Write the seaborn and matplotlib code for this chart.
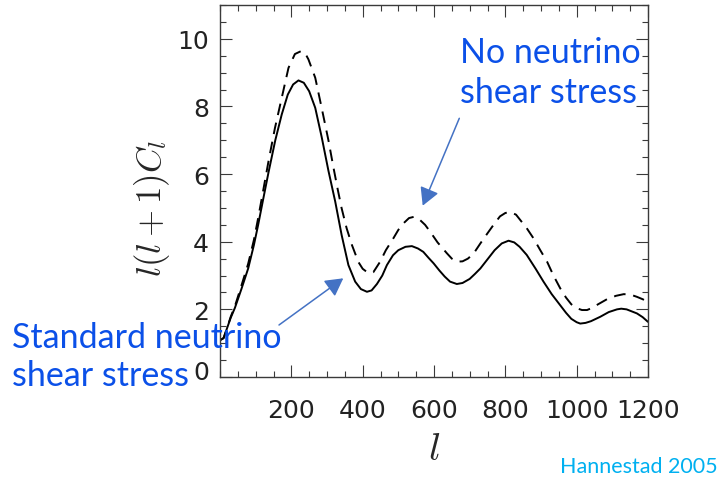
import numpy as np
import pandas as pd
import seaborn as sns
import matplotlib
matplotlib.use("Agg")
import matplotlib.pyplot as plt
from matplotlib.ticker import MultipleLocator
from matplotlib.transforms import ScaledTranslation

# ---- data ----
ell_std = [2, 10, 20, 30, 42, 60, 79, 95, 107, 120, 136, 155, 173, 190, 205, 220, 235, 250,
           267, 285, 304, 323, 341, 360, 379, 395, 412, 425, 440, 455, 468, 485, 500, 520,
           538, 555, 570, 585, 599, 615, 630, 645, 664, 680, 700, 715, 730, 750, 770, 790,
           809, 825, 840, 860, 885, 907, 930, 954, 970, 985, 1000, 1010, 1025, 1040, 1066,
           1090, 1113, 1125, 1140, 1169, 1185, 1200]
cl_std = [1.1, 1.15, 1.45, 1.75, 2.05, 2.6, 3.21, 3.9, 4.5, 5.2, 6.05, 7.0, 7.76, 8.35, 8.65,
          8.77, 8.7, 8.45, 7.96, 7.1, 6.1, 5.19, 4.2, 3.31, 2.82, 2.6, 2.52, 2.56, 2.75, 3.0,
          3.31, 3.6, 3.75, 3.85, 3.87, 3.8, 3.7, 3.52, 3.36, 3.15, 2.97, 2.82, 2.75, 2.78,
          2.9, 3.05, 3.21, 3.48, 3.75, 3.95, 4.03, 3.98, 3.85, 3.61, 3.2, 2.82, 2.45, 2.12,
          1.9, 1.72, 1.62, 1.58, 1.6, 1.65, 1.78, 1.92, 2.0, 2.02, 2.0, 1.88, 1.77, 1.63]

ell_noshear = [2, 10, 20, 30, 42, 60, 79, 95, 107, 120, 136, 154, 173, 192, 210, 228, 240, 248,
               267, 285, 304, 318, 330, 341, 355, 370, 388, 400, 415, 430, 449, 465, 486, 500,
               515, 530, 545, 560, 575, 589, 610, 636, 650, 664, 680, 695, 711, 730, 750, 767,
               785, 800, 814, 830, 845, 860, 879, 898, 917, 935, 954, 970, 985, 1001, 1015,
               1029, 1045, 1060, 1085, 1110, 1132, 1150, 1169, 1185, 1200]
cl_noshear = [1.1, 1.15, 1.45, 1.78, 2.1, 2.7, 3.35, 4.05, 4.7, 5.45, 6.38, 7.36, 8.25, 9.14,
              9.55, 9.64, 9.55, 9.39, 8.85, 7.96, 7.0, 6.2, 5.55, 4.99, 4.4, 3.9, 3.4, 3.2,
              3.08, 3.1, 3.41, 3.75, 4.1, 4.35, 4.55, 4.7, 4.74, 4.65, 4.5, 4.3, 3.98, 3.66,
              3.5, 3.41, 3.42, 3.5, 3.65, 3.95, 4.25, 4.5, 4.75, 4.85, 4.88, 4.8, 4.6, 4.4,
              4.1, 3.75, 3.41, 3.0, 2.62, 2.35, 2.15, 2.03, 1.98, 1.98, 2.05, 2.15, 2.3, 2.4,
              2.45, 2.44, 2.37, 2.3, 2.22]

x_ticks = [200, 400, 600, 800, 1000, 1200]
y_ticks = [0, 2, 4, 6, 8, 10]

label_std = "Standard neutrino\nshear stress"
label_noshear = "No neutrino\nshear stress"
credit = "Hannestad 2005"

# ---- figure ----
sns.set_style("ticks")
plt.rcParams["font.family"] = ["DejaVu Sans"]
plt.rcParams["mathtext.fontset"] = "cm"

fig = plt.figure(figsize=(7.2, 4.81), dpi=100)
ax = fig.add_axes([220 / 720, 1 - 378 / 481, 428 / 720, 372 / 481])

df_std = pd.DataFrame({"l": ell_std, "cl": cl_std})
df_ns = pd.DataFrame({"l": ell_noshear, "cl": cl_noshear})

sns.lineplot(data=df_std, x="l", y="cl", ax=ax, color="black", lw=1.4, sort=False)
sns.lineplot(data=df_ns, x="l", y="cl", ax=ax, color="black", lw=1.4, sort=False,
             linestyle=(0, (6, 4)))

ax.set_xlim(0, 1200)
ax.set_ylim(0, 11)
ax.set_xticks(x_ticks)
ax.set_yticks(y_ticks)
ax.set_xticklabels([str(v) for v in x_ticks])
ax.set_yticklabels([str(v) for v in y_ticks])
ax.xaxis.set_minor_locator(MultipleLocator(50))
ax.yaxis.set_minor_locator(MultipleLocator(0.5))

edge = "#3a3a3a"
for s in ax.spines.values():
    s.set_visible(True)
    s.set_color(edge)
    s.set_linewidth(1.0)
ax.tick_params(which="both", direction="in", top=True, right=True, color=edge, width=0.8)
ax.tick_params(which="major", length=8.6)
ax.tick_params(which="minor", length=4.3)
ax.tick_params(axis="x", which="major", labelsize=18, pad=15, labelcolor="#222222")
ax.tick_params(axis="y", which="major", labelsize=18, pad=8, labelcolor="#222222")

ax.set_xlabel(r"$l$", fontsize=28)
ax.set_ylabel(r"$l(l+1)C_l$", fontsize=25)
ax.xaxis.set_label_coords(0.5, -0.14)
ax.yaxis.set_label_coords(-0.112, 0.455)

# shift the "0" label up a little as in the reference
fig.canvas.draw()
for lab in ax.get_yticklabels():
    if lab.get_text() == "0":
        lab.set_transform(lab.get_transform() + ScaledTranslation(0, 8 / 100, fig.dpi_scale_trans))

# ---- annotations ----
blue_text = "#0B50E8"
arrow_col = "#4472C4"
fig.text(460 / 720, 1 - 37 / 481, label_noshear, color=blue_text, fontsize=24.5,
         family=["Lato", "DejaVu Sans"], ha="left", va="top", linespacing=1.32)
fig.text(12 / 720, 1 - 322 / 481, label_std, color=blue_text, fontsize=24.5,
         family=["Lato", "DejaVu Sans"], ha="left", va="top", linespacing=1.25)
fig.text(718 / 720, 1 - 473 / 481, credit, color="#00B0F0", fontsize=15.5,
         family=["Lato", "DejaVu Sans"], ha="right", va="baseline")

arrowprops = dict(arrowstyle="-|>,head_length=0.4,head_width=0.22", mutation_scale=27,
                  lw=1.1, color=arrow_col, shrinkA=0, shrinkB=0)
ax.annotate("", xy=(343.3, 481 - 279.3), xytext=(279, 481 - 326),
            xycoords="figure pixels", textcoords="figure pixels", arrowprops=arrowprops)
ax.annotate("", xy=(422.7, 481 - 206.7), xytext=(459.3, 481 - 119.3),
            xycoords="figure pixels", textcoords="figure pixels", arrowprops=arrowprops)

fig.savefig("out.png", dpi=100)
